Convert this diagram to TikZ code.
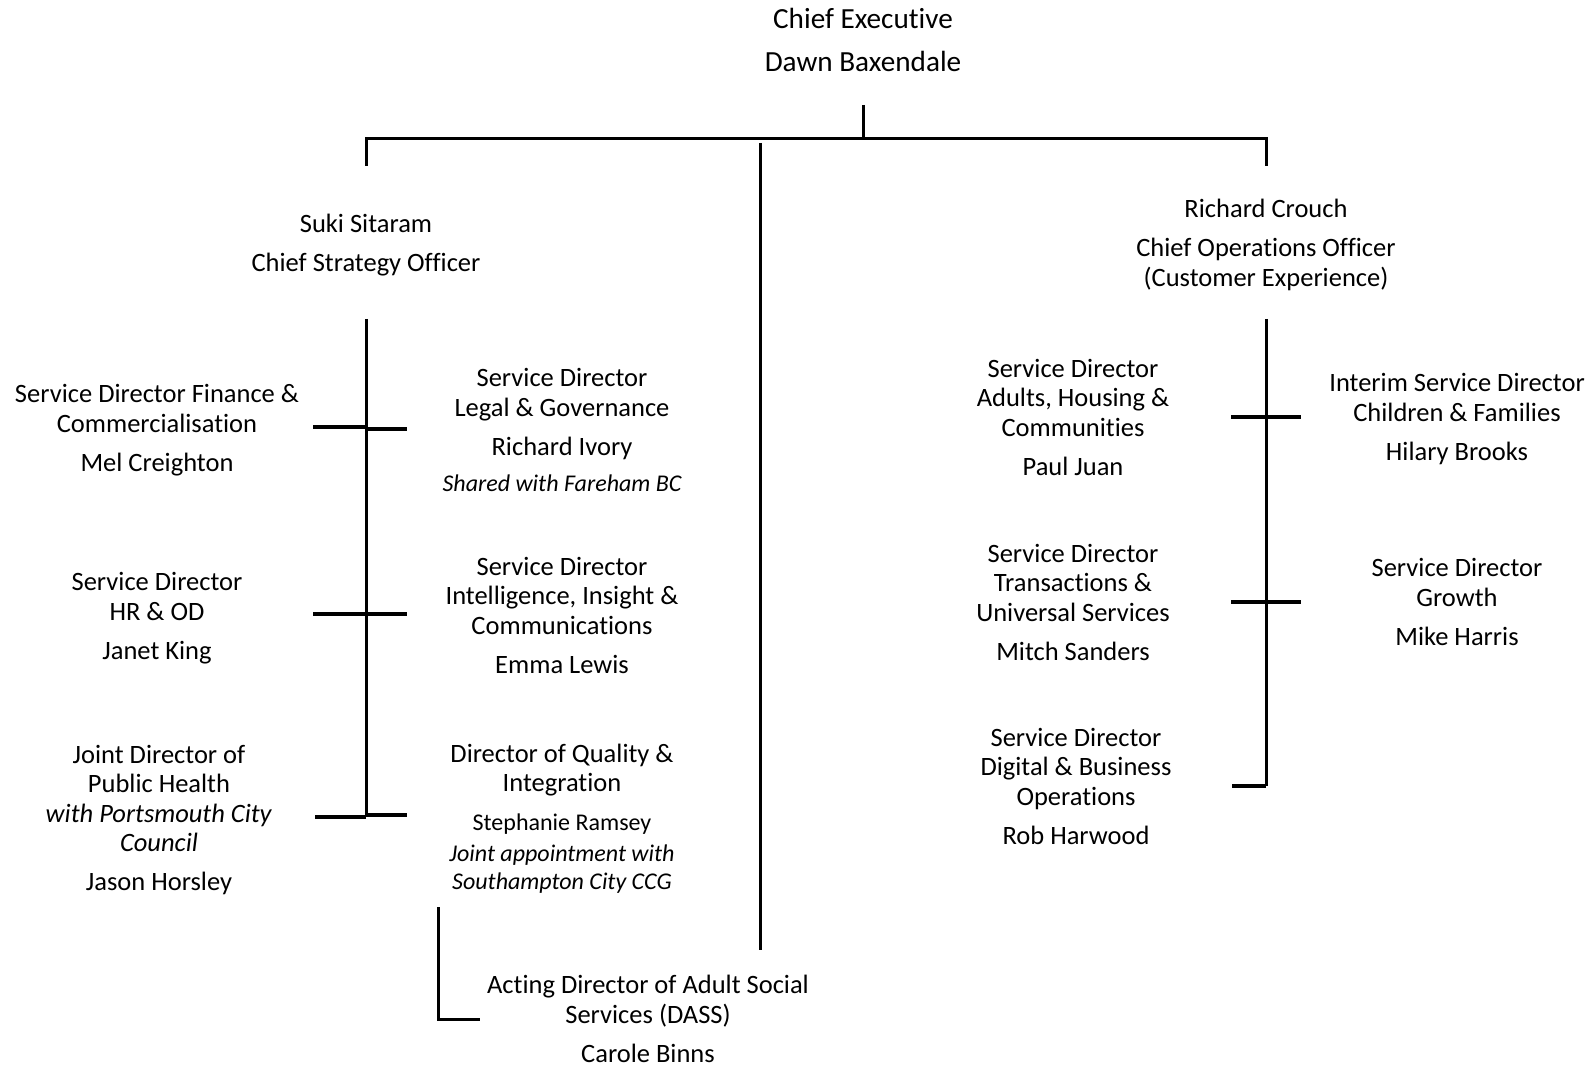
\documentclass[tikz,border=0pt]{standalone}
\usepackage{fontspec}
\setmainfont{Carlito}[Ligatures={CommonOff,ContextualOff,RareOff}, RawFeature={-liga;-clig;-calt}]
\usetikzlibrary{positioning}

\tikzset{
  post/.style={align=center, inner sep=0pt, font=\fontsize{13.25}{14.75}\selectfont},
  head/.style={align=center, inner sep=0pt, font=\fontsize{14.6}{16}\selectfont},
  remark/.style={align=center, inner sep=0pt, font=\fontsize{12}{13.7}\selectfont\itshape},
  link/.style={line width=1.5pt},
  tick/.style={line width=1.75pt}
}

\begin{document}
\begin{tikzpicture}[x=0.5pt, y=-0.5pt]
 \useasboundingbox (0,0) rectangle (1594,1068);

 % top level
 \node [head] (ceo) at (863,40) {Chief Executive\\[5.3pt]Dawn Baxendale};
 \node [post] (cso) at (366,245) {Suki Sitaram\\[5pt]Chief Strategy Officer};
 \node [post] (coo) at (1266,245) {Richard Crouch\\[4.6pt]Chief Operations Officer\\(Customer Experience)};

 % strategy side
 \node [post] (fin) at (157,430) {Service Director Finance \&\\Commercialisation\\[4.75pt]Mel Creighton};
 \node [post] (hr) at (157,618) {Service Director\\HR \& OD\\[4.75pt]Janet King};
 \node [post] (ph) at (159,820) {Joint Director of\\Public Health\\\textit{with Portsmouth City}\\\textit{Council}\\[4.75pt]Jason Horsley};
 \node [post] (legal) at (562,414) {Service Director\\Legal \& Governance\\[4.75pt]Richard Ivory};
 \node [remark] (legalnote) at (562,483) {Shared with Fareham BC};
 \node [post] (intel) at (562,615) {Service Director\\Intelligence, Insight \&\\Communications\\[4.75pt]Emma Lewis};
 \node [post] (qual) at (562,789) {Director of Quality \&\\Integration\\[4.5pt]{\fontsize{12}{13.7}\selectfont Stephanie Ramsey}};
 \node [remark] (qualnote) at (562,869) {Joint appointment with\\Southampton City CCG};
 \node [post] (dass) at (648,1019) {Acting Director of Adult Social\\Services (DASS)\\[4.75pt]Carole Binns};

 % operations side
 \node [post] (adults) at (1073,417) {Service Director\\Adults, Housing \&\\Communities\\[4.75pt]Paul Juan};
 \node [post] (trans) at (1073,602) {Service Director\\Transactions \&\\Universal Services\\[4.75pt]Mitch Sanders};
 \node [post] (digital) at (1076,786) {Service Director\\Digital \& Business\\Operations\\[4.75pt]Rob Harwood};
 \node [post] (child) at (1457,419) {Interim Service Director\\Children \& Families\\[4.75pt]Hilary Brooks};
 \node [post] (growth) at (1457,602) {Service Director\\Growth\\[4.75pt]Mike Harris};

 % junctions
 \coordinate (ceo-stem) at (863,105);
 \coordinate (bar-l) at (366,139);
 \coordinate (bar-r) at (1266,139);
 \coordinate (mid-top) at (760,143);
 \coordinate (mid-bot) at (760,950);
 \coordinate (cso-top) at (366,319);
 \coordinate (cso-bot) at (366,817);
 \coordinate (coo-top) at (1266,319);
 \coordinate (coo-bot) at (1266,786);
 \coordinate (dass-top) at (438,907);
 \coordinate (dass-end) at (480,1019);

 \draw [link] (ceo-stem) -- (ceo-stem |- bar-l);
 \draw [link] (bar-l |- 0,166) -- (bar-l) -- (bar-r) -- (bar-r |- 0,166);
 \draw [link] (mid-top) -- (mid-bot);

 % strategy spine
 \draw [link] (cso-top) -- (cso-bot);
 \draw [tick] (313,427) -- (366,427);
 \draw [tick] (366,429) -- (407,429);
 \draw [tick] (313,614) -- (407,614);
 \draw [tick] (315,817) -- (cso-bot);
 \draw [tick] (366,815) -- (407,815);
 \draw [link] (dass-top) -- (dass-top |- dass-end) -- (dass-end);

 % operations spine
 \draw [link] (coo-top) -- (coo-bot);
 \draw [tick] (1231,417) -- (1301,417);
 \draw [tick] (1231,602) -- (1301,602);
 \draw [tick] (1232,786) -- (coo-bot);
\end{tikzpicture}
\end{document}
